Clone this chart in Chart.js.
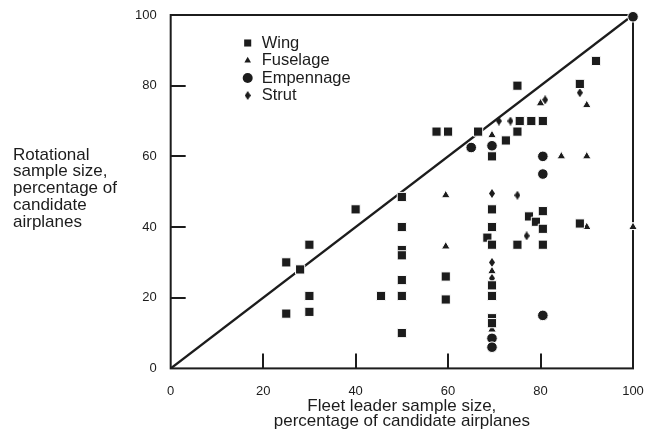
<!DOCTYPE html>
<html>
<head>
<meta charset="utf-8">
<script src="https://cdn.jsdelivr.net/npm/chart.js@4.4.1/dist/chart.umd.min.js"></script>
<style>
  body { margin: 0; background: #fff; }
  #wrap { width: 662px; height: 436px; }
</style>
</head>
<body>
<div id="wrap"><canvas id="chart" width="662" height="436"></canvas></div>
<script>
// values (percent)
const seriesNames = ["Wing", "Fuselage", "Empennage", "Strut"];

const wingX = [25, 30, 28, 30, 25, 30, 40, 50, 50, 50, 50, 50, 50, 45.5, 50,
  57.5, 60, 66.5, 75, 75, 75.5, 78, 80.5, 72.5, 69.5,
  69.5, 80.5, 77.5, 79, 69.5, 80.5, 68.5, 69.5, 75, 80.5,
  59.5, 59.5, 69.5, 69.5, 69.5, 69.5, 92, 88.5, 88.5];
const wingY = [30, 35, 28, 20.5, 15.5, 16, 45, 48.5, 40, 33.5, 32, 25, 20.5, 20.5, 10,
  67, 67, 67, 80, 67, 70, 70, 70, 64.5, 60,
  45, 44.5, 43, 41.5, 40, 39.5, 37, 35, 35, 35,
  26, 19.5, 23.5, 20.5, 14.2, 12.8, 87, 80.5, 41];

const fuselageX = [59.5, 59.5, 69.5, 80, 90, 84.5, 90, 90, 100, 69.5, 69.5];
const fuselageY = [49, 34.5, 66, 75, 74.5, 60, 60, 40, 40, 27.5, 11];

const empennageX = [65, 69.5, 80.5, 80.5, 80.5, 69.5, 69.5, 100];
const empennageY = [62.5, 63, 60, 55, 15, 8.5, 6, 99.5];

const strutX = [71, 73.5, 81, 69.5, 75, 77, 69.5, 69.5, 88.5];
const strutY = [70, 70, 76, 49.5, 49, 37.5, 30, 25.5, 78];

// line of equal sample size
const diagX = [0, 100];
const diagY = [0, 100];

const xTicks = [0, 20, 40, 60, 80, 100];
const yTicks = [0, 20, 40, 60, 80, 100];

const xTitle = ["Fleet leader sample size,", "percentage of candidate airplanes"];
const yTitle = ["Rotational", "sample size,", "percentage of", "candidate", "airplanes"];

const ink = "#1c1c1c";
const fontFam = '"Liberation Sans", Arial, sans-serif';

function pts(xs, ys) {
  return xs.map((x, i) => ({ x: x, y: ys[i] }));
}

// small upright diamond for the strut marker
const strutImg = document.createElement("canvas");
strutImg.width = 6;
strutImg.height = 9;
(function () {
  const c = strutImg.getContext("2d");
  c.fillStyle = ink;
  c.beginPath();
  c.moveTo(3, 0); c.lineTo(6, 4.5); c.lineTo(3, 9); c.lineTo(0, 4.5);
  c.closePath();
  c.fill();
})();

const styles = ["rect", "triangle", "circle", strutImg];
const radii = [6.5, 5, 5.3, 4];
const legendRadii = [5, 3.8, 5, 4];

const decor = {
  id: "decor",
  beforeDatasetsDraw(chart) {
    const ctx = chart.ctx, a = chart.chartArea;
    const sx = chart.scales.x, sy = chart.scales.y;
    ctx.save();
    ctx.strokeStyle = ink;
    ctx.lineWidth = 2;
    ctx.strokeRect(a.left, a.top, a.right - a.left, a.bottom - a.top);
    ctx.beginPath();
    xTicks.slice(1, -1).forEach(v => {
      const px = Math.round(sx.getPixelForValue(v));
      ctx.moveTo(px, a.bottom);
      ctx.lineTo(px, a.bottom - 15);
    });
    yTicks.slice(1, -1).forEach(v => {
      const py = Math.round(sy.getPixelForValue(v));
      ctx.moveTo(a.left, py);
      ctx.lineTo(a.left + 15, py);
    });
    ctx.stroke();
    ctx.restore();
  },
  afterDraw(chart) {
    const ctx = chart.ctx, a = chart.chartArea;
    ctx.save();
    ctx.fillStyle = ink;
    ctx.font = "16.5px " + fontFam;
    ctx.textBaseline = "middle";

    // legend inside the plot
    ctx.textAlign = "left";
    seriesNames.forEach((name, i) => {
      const y = a.top + 28 + i * 17.5;
      const opt = { pointStyle: styles[i], radius: legendRadii[i], rotation: 0, borderWidth: 0 };
      Chart.helpers.drawPoint(ctx, opt, a.left + 77, y);
      ctx.fillText(name, a.left + 91, y);
    });

    // x title
    ctx.font = "17px " + fontFam;
    ctx.textAlign = "center";
    const cx = (a.left + a.right) / 2;
    xTitle.forEach((t, i) => ctx.fillText(t, cx, a.bottom + 38 + i * 15));

    // y title, horizontal on the left
    ctx.textAlign = "left";
    yTitle.forEach((t, i) => ctx.fillText(t, 13, 155 + i * 16.8));
    ctx.restore();
  }
};

const pointSet = (i, xs, ys) => ({
  label: seriesNames[i],
  data: pts(xs, ys),
  pointStyle: styles[i],
  pointRadius: radii[i],
  backgroundColor: ink,
  borderColor: "#fff",
  borderWidth: 1,
  clip: false,
  order: 1
});

new Chart(document.getElementById("chart"), {
  type: "scatter",
  data: {
    datasets: [
      pointSet(0, wingX, wingY),
      pointSet(1, fuselageX, fuselageY),
      pointSet(2, empennageX, empennageY),
      pointSet(3, strutX, strutY),
      {
        label: "equal",
        data: pts(diagX, diagY),
        showLine: true,
        borderColor: ink,
        borderWidth: 2.4,
        pointRadius: 0,
        order: 10
      }
    ]
  },
  options: {
    responsive: false,
    animation: false,
    events: [],
    layout: { autoPadding: false, padding: { left: 121, right: 29, top: 15, bottom: 22 } },
    plugins: {
      legend: { display: false },
      tooltip: { enabled: false }
    },
    scales: {
      x: {
        type: "linear",
        min: 0, max: 100,
        afterBuildTicks: s => { s.ticks = xTicks.map(v => ({ value: v })); },
        afterFit: s => { s.paddingLeft = 0; s.paddingRight = 0; },
        grid: { display: false, drawTicks: false },
        border: { display: false },
        ticks: { color: ink, font: { family: fontFam, size: 13 }, padding: 15, maxRotation: 0 }
      },
      y: {
        type: "linear",
        min: 0, max: 100,
        afterBuildTicks: s => { s.ticks = yTicks.map(v => ({ value: v })); },
        afterFit: s => { s.paddingTop = 0; s.paddingBottom = 0; },
        grid: { display: false, drawTicks: false },
        border: { display: false },
        ticks: { color: ink, font: { family: fontFam, size: 13 }, padding: 14 }
      }
    }
  },
  plugins: [decor]
});
</script>
</body>
</html>
